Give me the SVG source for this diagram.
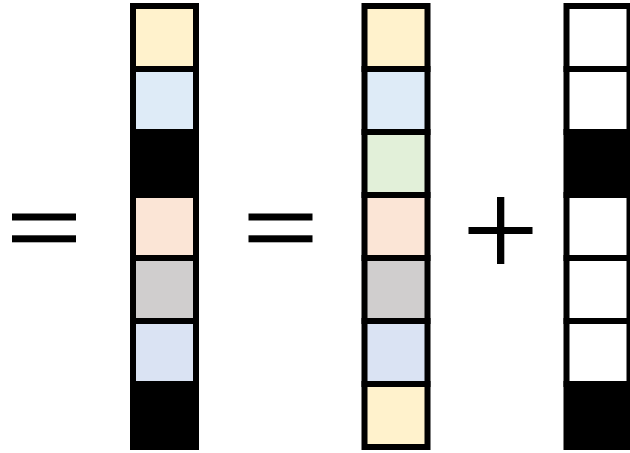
<svg xmlns="http://www.w3.org/2000/svg" width="630" height="453" viewBox="0 0 630 453">
  <style>
    .cell { stroke: #000; stroke-width: 6; }
    .bar { fill: #000; }
    .yellow { fill: #FFF2CC; }
    .sky { fill: #DEEBF7; }
    .green { fill: #E2F0D9; }
    .peach { fill: #FBE5D6; }
    .gray { fill: #D0CECE; }
    .blue { fill: #DAE3F3; }
    .black { fill: #000; }
    .white { fill: #fff; }
  </style>
  <rect width="630" height="453" fill="#fff"/>

  <!-- equals sign, left -->
  <g id="equals1">
    <rect class="bar" x="12" y="213.5" width="64" height="7"/>
    <rect class="bar" x="12" y="235.3" width="64" height="7"/>
  </g>

  <!-- column A -->
  <g id="columnA">
    <rect class="cell yellow" x="133" y="6" width="63" height="63"/>
    <rect class="cell sky" x="133" y="69" width="63" height="63"/>
    <rect class="cell black" x="133" y="132" width="63" height="63"/>
    <rect class="cell peach" x="133" y="195" width="63" height="63"/>
    <rect class="cell gray" x="133" y="258" width="63" height="63"/>
    <rect class="cell blue" x="133" y="321" width="63" height="63"/>
    <rect class="cell black" x="133" y="384" width="63" height="63"/>
  </g>

  <!-- equals sign, middle -->
  <g id="equals2">
    <rect class="bar" x="248.5" y="213.5" width="64" height="7"/>
    <rect class="bar" x="248.5" y="235.3" width="64" height="7"/>
  </g>

  <!-- column B -->
  <g id="columnB">
    <rect class="cell yellow" x="364.5" y="6" width="63" height="63"/>
    <rect class="cell sky" x="364.5" y="69" width="63" height="63"/>
    <rect class="cell green" x="364.5" y="132" width="63" height="63"/>
    <rect class="cell peach" x="364.5" y="195" width="63" height="63"/>
    <rect class="cell gray" x="364.5" y="258" width="63" height="63"/>
    <rect class="cell blue" x="364.5" y="321" width="63" height="63"/>
    <rect class="cell yellow" x="364.5" y="384" width="63" height="63"/>
  </g>

  <!-- plus sign -->
  <g id="plus">
    <rect class="bar" x="468.5" y="227" width="64" height="7"/>
    <rect class="bar" x="497" y="197" width="7.3" height="67"/>
  </g>

  <!-- column C -->
  <g id="columnC">
    <rect class="cell white" x="566.5" y="6" width="63" height="63"/>
    <rect class="cell white" x="566.5" y="69" width="63" height="63"/>
    <rect class="cell black" x="566.5" y="132" width="63" height="63"/>
    <rect class="cell white" x="566.5" y="195" width="63" height="63"/>
    <rect class="cell white" x="566.5" y="258" width="63" height="63"/>
    <rect class="cell white" x="566.5" y="321" width="63" height="63"/>
    <rect class="cell black" x="566.5" y="384" width="63" height="63"/>
  </g>

  <g id="connectors"/>
</svg>
